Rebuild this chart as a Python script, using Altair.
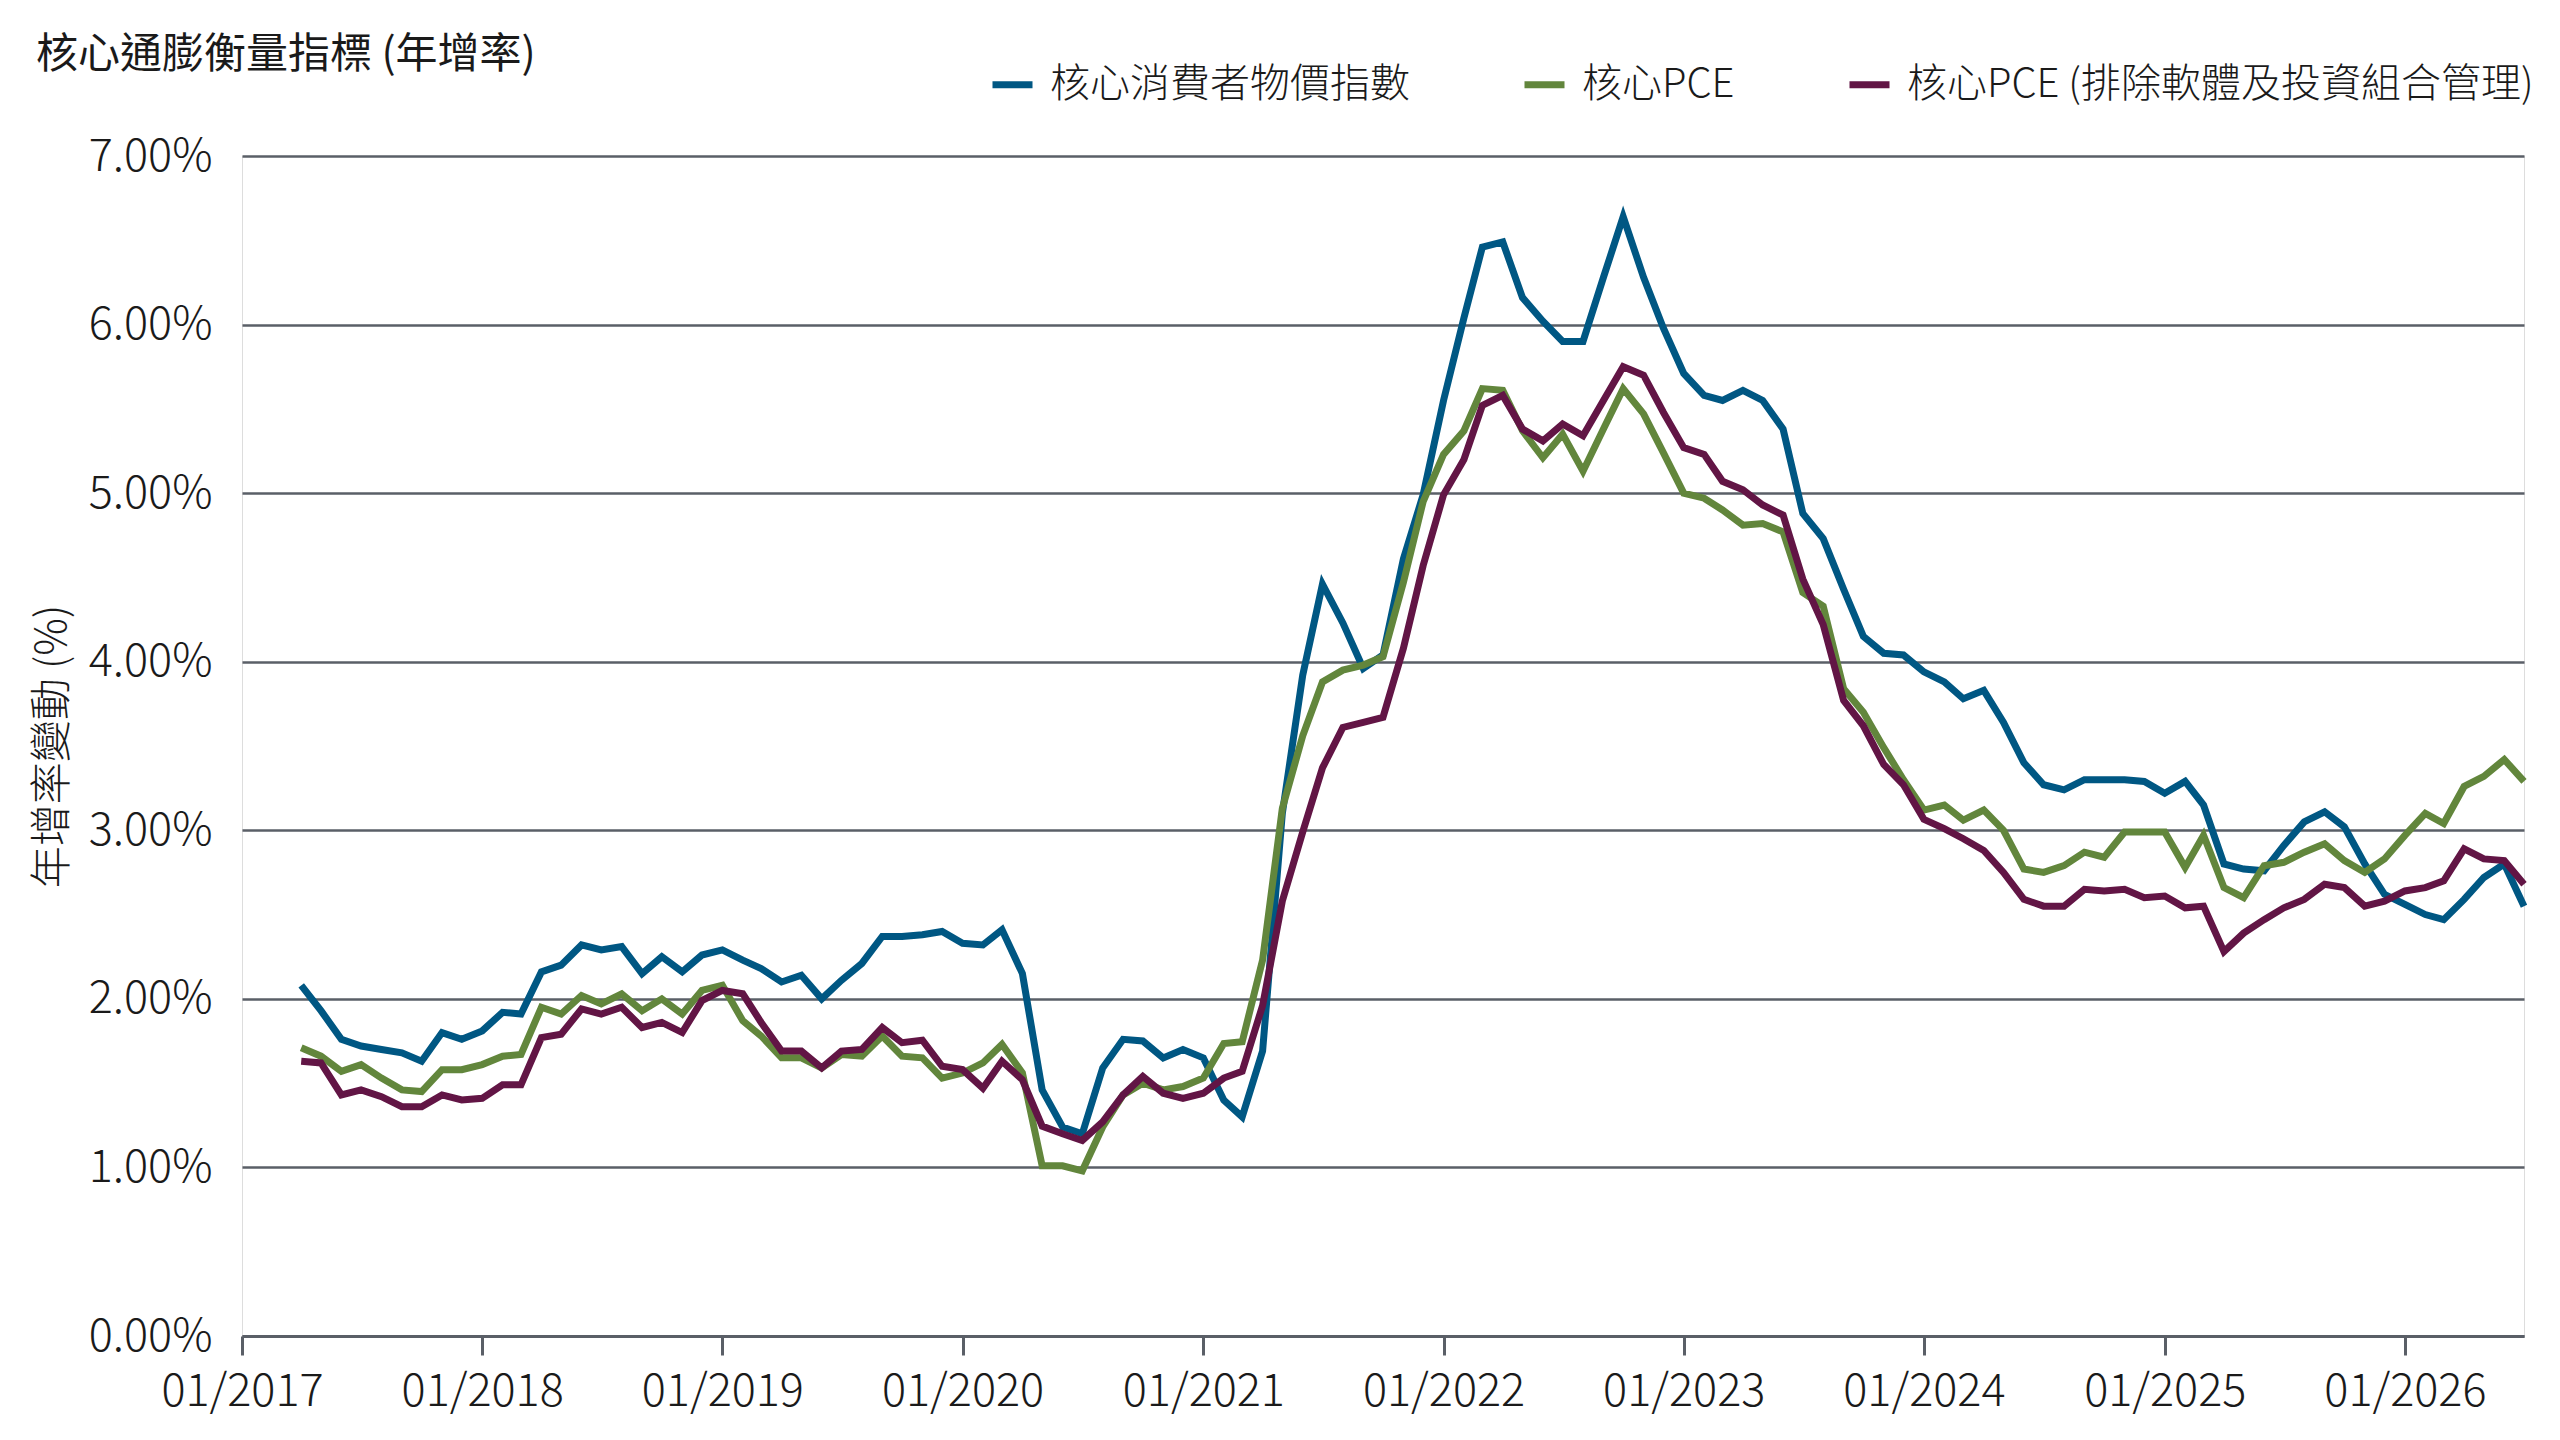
import altair as alt
import pandas as pd

# ---- data, monthly from 04/2017 ----
start_month = "2017-04-01"

core_cpi = [
    2.08, 1.93, 1.76, 1.72, 1.70, 1.68, 1.63, 1.80, 1.76, 1.81, 1.92, 1.91,
    2.16, 2.20, 2.32, 2.29, 2.31, 2.15, 2.25, 2.16, 2.26, 2.29, 2.23, 2.18,
    2.10, 2.14, 2.00, 2.11, 2.21, 2.37, 2.37, 2.38, 2.40, 2.33, 2.32, 2.41,
    2.15, 1.46, 1.24, 1.20, 1.59, 1.76, 1.75, 1.65, 1.70, 1.65, 1.40, 1.30,
    1.69, 3.10, 3.92, 4.46, 4.23, 3.96, 4.04, 4.61, 4.99, 5.55, 6.04, 6.46,
    6.49, 6.16, 6.02, 5.90, 5.90, 6.28, 6.64, 6.28, 5.98, 5.71, 5.58, 5.55,
    5.61, 5.55, 5.38, 4.88, 4.73, 4.43, 4.15, 4.05, 4.04, 3.94, 3.88, 3.78,
    3.83, 3.64, 3.40, 3.27, 3.24, 3.30, 3.30, 3.30, 3.29, 3.22, 3.29, 3.15,
    2.80, 2.77, 2.76, 2.91, 3.05, 3.11, 3.02, 2.80, 2.62, 2.56, 2.50, 2.47,
    2.59, 2.72, 2.80, 2.55,
]

core_pce = [
    1.71, 1.66, 1.57, 1.61, 1.53, 1.46, 1.45, 1.58, 1.58, 1.61, 1.66, 1.67,
    1.95, 1.91, 2.02, 1.97, 2.03, 1.93, 2.00, 1.91, 2.05, 2.08, 1.87, 1.78,
    1.65, 1.65, 1.59, 1.67, 1.66, 1.78, 1.66, 1.65, 1.53, 1.56, 1.62, 1.73,
    1.56, 1.01, 1.01, 0.98, 1.24, 1.43, 1.50, 1.46, 1.48, 1.53, 1.735, 1.745,
    2.23, 3.13, 3.56, 3.88, 3.95, 3.98, 4.03, 4.47, 4.95, 5.23, 5.37, 5.62,
    5.61, 5.37, 5.21, 5.35, 5.13, 5.38, 5.62, 5.47, 5.24, 5.00, 4.97, 4.90,
    4.81, 4.82, 4.77, 4.41, 4.33, 3.84, 3.70, 3.49, 3.30, 3.12, 3.15, 3.06,
    3.12, 3.00, 2.77, 2.75, 2.79, 2.87, 2.84, 2.99, 2.99, 2.99, 2.78, 2.97,
    2.66, 2.60, 2.79, 2.81, 2.87, 2.92, 2.82, 2.75, 2.83, 2.97, 3.10, 3.04,
    3.26, 3.32, 3.42, 3.29,
]

core_pce_ex = [
    1.63, 1.62, 1.43, 1.46, 1.42, 1.36, 1.36, 1.43, 1.40, 1.41, 1.49, 1.49,
    1.77, 1.79, 1.94, 1.91, 1.95, 1.83, 1.86, 1.80, 1.99, 2.05, 2.03, 1.86,
    1.69, 1.69, 1.59, 1.69, 1.70, 1.83, 1.74, 1.755, 1.60, 1.58, 1.47, 1.63,
    1.52, 1.245, 1.20, 1.16, 1.27, 1.43, 1.54, 1.44, 1.41, 1.44, 1.53, 1.57,
    1.96, 2.58, 2.99, 3.37, 3.61, 3.64, 3.67, 4.08, 4.57, 4.99, 5.20, 5.52,
    5.58, 5.38, 5.31, 5.41, 5.34, 5.55, 5.75, 5.70, 5.48, 5.27, 5.23, 5.07,
    5.02, 4.93, 4.87, 4.49, 4.22, 3.77, 3.62, 3.39, 3.27, 3.065, 3.01, 2.95,
    2.88, 2.75, 2.59, 2.55, 2.55, 2.65, 2.64, 2.65, 2.60, 2.61, 2.54, 2.55,
    2.28, 2.39, 2.47, 2.54, 2.59, 2.68, 2.66, 2.55, 2.58, 2.64, 2.66, 2.70,
    2.89, 2.83, 2.82, 2.68,
]

series_names = ["核心消費者物價指數", "核心PCE", "核心PCE (排除軟體及投資組合管理)"]
series_colors = ["#005783", "#62863c", "#621545"]
y_ticks = [0, 1, 2, 3, 4, 5, 6, 7]
x_tick_years = list(range(2017, 2027))

chart_title = "核心通膨衡量指標 (年增率)"
y_title = "年增率變動 (%)"

# ---- build long table ----
dates = pd.date_range(start_month, periods=len(core_cpi), freq="MS").strftime("%Y-%m-%d")
rows = []
for name, vals in zip(series_names, [core_cpi, core_pce, core_pce_ex]):
    for d, v in zip(dates, vals):
        rows.append({"date": d, "value": v, "series": name})
df = pd.DataFrame(rows)

FONT = "Noto Sans CJK TC"
TXT = "#1a1a1a"
GRID = "#5a5f67"

chart = (
    alt.Chart(df)
    .mark_line(strokeWidth=7)
    .encode(
        x=alt.X(
            "date:T",
            scale=alt.Scale(
                type="utc",
                domain=[
                    alt.DateTime(year=2017, month=1, date=1, utc=True),
                    alt.DateTime(year=2026, month=7, date=1, utc=True),
                ],
            ),
            axis=alt.Axis(
                title=None,
                values=[alt.DateTime(year=y, month=1, date=1, utc=True) for y in x_tick_years],
                labelExpr="utcFormat(datum.value, '%m/%Y')",
                grid=False,
                domainColor=GRID,
                domainWidth=3,
                tickColor=GRID,
                tickWidth=3,
                tickSize=19,
                labelFont=FONT,
                labelFontSize=45,
                labelFontWeight=300,
                labelColor=TXT,
                labelPadding=14,
                labelFlush=False,
            ),
        ),
        y=alt.Y(
            "value:Q",
            scale=alt.Scale(domain=[0, 7], nice=False, zero=True),
            axis=alt.Axis(
                title=y_title,
                values=y_ticks,
                labelExpr="format(datum.value, '.2f') + '%'",
                domain=False,
                ticks=False,
                grid=True,
                gridColor=GRID,
                gridWidth=2.5,
                labelFont=FONT,
                labelFontSize=45,
                labelFontWeight=300,
                labelColor=TXT,
                labelPadding=30,
                titleFont=FONT,
                titleFontSize=42,
                titleFontWeight=300,
                titleColor=TXT,
                titleAngle=270,
                titleX=-190,
                titleY=590,
                titleAlign="center",
                titleBaseline="middle",
            ),
        ),
        color=alt.Color(
            "series:N",
            title=None,
            scale=alt.Scale(domain=series_names, range=series_colors),
            legend=alt.Legend(
                orient="none",
                legendX=747,
                legendY=-95,
                direction="horizontal",
                symbolType="stroke",
                symbolStrokeWidth=7,
                symbolSize=1600,
                labelFont=FONT,
                labelFontSize=40,
                labelFontWeight=300,
                labelColor=TXT,
                labelOffset=14,
                labelLimit=1200,
                columnPadding=100,
            ),
        ),
    )
    .properties(
        width=2282,
        height=1180,
        autosize=alt.AutoSizeParams(type="none"),
        padding={"left": 234, "top": 148, "right": 28, "bottom": 90},
        title=alt.TitleParams(
            text=chart_title,
            anchor="start",
            frame="group",
            dx=-206,
            dy=56,
            offset=40,
            font=FONT,
            fontSize=42,
            fontWeight="normal",
            color=TXT,
        ),
    )
    .configure_view(stroke=None)
    .configure(background="white")
)

chart.save("out.html", embed_options={"renderer": "svg", "actions": False})
